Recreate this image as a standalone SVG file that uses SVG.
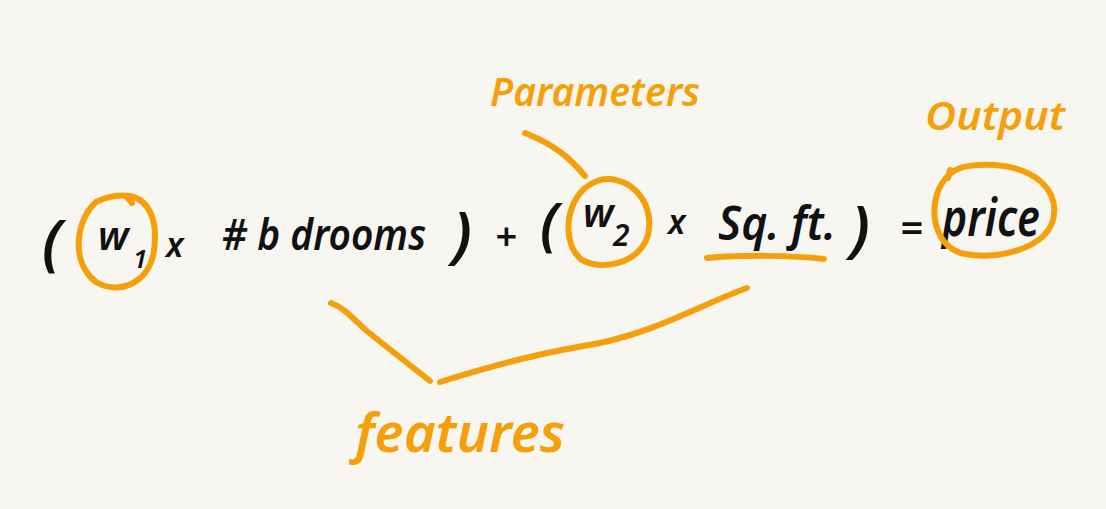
<svg xmlns="http://www.w3.org/2000/svg" width="1106" height="509" viewBox="0 0 1106 509">
<style>
.ink{font-family:"Noto Sans","DejaVu Sans",sans-serif;fill:#111;font-weight:600;font-style:italic}
.or{font-family:"Noto Sans","DejaVu Sans",sans-serif;fill:#f5a00a;font-weight:600;font-style:italic}
.stroke{fill:none;stroke:#f5a00a;stroke-width:6;stroke-linecap:round;stroke-linejoin:round}
</style>
<rect x="0" y="0" width="1106" height="509" fill="#f8f6f1"/>
<g id="equation">
<text class="ink" x="42" y="264" font-size="62" font-style="normal">(</text>
<text class="ink" x="98" y="250" font-size="40">w</text>
<text class="ink" x="133" y="268" font-size="26">1</text>
<text class="ink" x="166" y="257" font-size="34" font-style="normal">x</text>
<text class="ink" x="222" y="250" font-size="44" textLength="204" lengthAdjust="spacingAndGlyphs"># b drooms</text>
<text class="ink" x="452" y="256" font-size="62" font-style="normal">)</text>
<text class="ink" x="495" y="250" font-size="38" font-style="normal">+</text>
<text class="ink" x="540" y="244" font-size="58" font-style="normal">(</text>
<text class="ink" x="583" y="227" font-size="40">w</text>
<text class="ink" x="613" y="246" font-size="30">2</text>
<text class="ink" x="668" y="234" font-size="34" font-style="normal">x</text>
<text class="ink" x="718" y="240" font-size="46" textLength="118" lengthAdjust="spacingAndGlyphs">Sq. ft.</text>
<text class="ink" x="850" y="250" font-size="62" font-style="normal">)</text>
<text class="ink" x="900" y="242" font-size="40" font-style="normal">=</text>
<text class="ink" x="942" y="236" font-size="52" textLength="98" lengthAdjust="spacingAndGlyphs">price</text>
</g>
<g id="w1-circle"><path class="stroke" d="M96 202 C76 220 70 262 96 282 C120 296 150 282 154 250 C158 222 150 200 130 196 C116 194 104 198 96 202 M126 196 L132 203"/></g>
<g id="w2-circle"><path class="stroke" d="M585 188 C565 205 562 245 582 260 C605 272 640 262 648 235 C654 208 638 182 610 179 C598 178 590 184 585 188"/></g>
<g id="price-circle"><path class="stroke" d="M950 174 C925 195 930 248 965 254 C1000 260 1045 248 1053 220 C1060 190 1035 168 995 165 C975 164 958 166 950 174 M948 178 L950 170"/></g>
<g id="sqft-underline"><path class="stroke" d="M707 258 C740 255 790 255 824 259" stroke-width="5"/></g>
<g id="parameters">
<text class="or" x="490" y="106" font-size="40" textLength="210" lengthAdjust="spacingAndGlyphs">Parameters</text>
</g>
<g id="output">
<text class="or" x="925" y="130" font-size="40" textLength="140" lengthAdjust="spacingAndGlyphs">Output</text>
</g>
<g id="features">
<text class="or" x="355" y="452" font-size="54" textLength="210" lengthAdjust="spacingAndGlyphs">features</text>
</g>
<g id="connectors">
<path class="stroke" d="M525 133 C555 145 570 158 585 176"/>
<path class="stroke" d="M331 303 C345 308 352 318 368 332 L430 381"/>
<path class="stroke" d="M440 382 C520 357 560 350 600 343 C660 330 700 305 747 288"/>
</g>
</svg>
